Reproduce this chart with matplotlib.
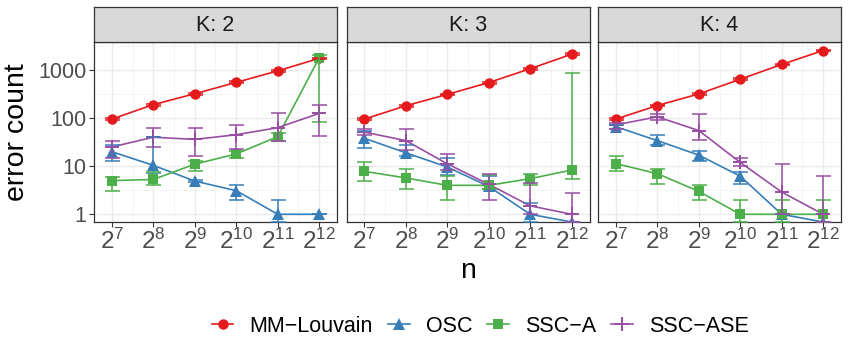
import numpy as np
import matplotlib
matplotlib.use('Agg')
import matplotlib.pyplot as plt
from matplotlib.lines import Line2D

plt.rcParams['font.family'] = ['Liberation Sans', 'DejaVu Sans']
plt.rcParams['mathtext.fontset'] = 'custom'
plt.rcParams['mathtext.rm'] = 'Liberation Sans'
plt.rcParams['mathtext.it'] = 'Liberation Sans:italic'

# n = 2^7 .. 2^12 (exponents), one row per K
exponents = [7, 8, 9, 10, 11, 12]
k_values = [2, 3, 4]
methods = ['MM\u2212Louvain', 'OSC', 'SSC\u2212A', 'SSC\u2212ASE']

# error counts (0 = shown at the panel floor, like -Inf in ggplot)
mm_mid = [[95, 190, 320, 550, 955, 1740], [95, 180, 310, 545, 1060, 2120], [95, 182, 317, 640, 1300, 2530]]
mm_lo = [[90, 181, 305, 525, 915, 1670], [90, 172, 297, 522, 1015, 2040], [90, 174, 304, 615, 1250, 2440]]
mm_hi = [[100, 199, 335, 575, 995, 1810], [100, 188, 323, 568, 1105, 2200], [100, 190, 330, 665, 1350, 2620]]

osc_mid = [[20, 10.4, 4.9, 3.1, 1, 1], [38, 19, 9.6, 3.8, 1, 0], [66, 34, 17, 6.2, 1, 0]]
osc_lo = [[13, 7.2, 4.6, 2.0, 0, 1], [23.7, 16, 6.7, 3.3, 0, 0], [60, 27, 12.6, 4.2, 1, 0]]
osc_hi = [[28, 41, 5.2, 4.0, 2.0, 1], [53.7, 26.9, 14.7, 6.2, 1.7, 0], [70, 45, 21, 7.5, 1, 0]]

ssca_mid = [[5, 5.3, 11, 18, 41, 1780], [7.8, 5.7, 4, 4, 5.5, 8.3], [11.3, 7, 3, 1, 1, 1]]
ssca_lo = [[3, 4, 7.8, 15, 32.6, 84], [5, 3.3, 2, 3.3, 4, 5.3], [7.8, 4.2, 2, 0, 0, 0]]
ssca_hi = [[5.9, 7.6, 13, 20.8, 50, 2000], [12.2, 8.8, 6.2, 6.7, 7, 870], [16, 8.8, 4, 2, 2, 2]]

sscase_mid = [[25, 40, 36, 45, 63, 125], [51, 34, 11.2, 4.2, 1.5, 1], [72, 106, 55, 12, 2.9, 1]]
sscase_lo = [[14.8, 25.5, 16, 22.7, 32.6, 42], [45, 22, 8.5, 2, 1, 0], [60, 90, 35, 9.9, 1, 0]]
sscase_hi = [[33.5, 61, 61, 72, 128, 190], [58, 58, 18, 7, 4.5, 2.8], [80, 120, 120, 15, 11, 6.2]]

series = [
    (mm_mid, mm_lo, mm_hi, '#E41A1C', 'o', 7.5),
    (osc_mid, osc_lo, osc_hi, '#377EB8', '^', 8.5),
    (ssca_mid, ssca_lo, ssca_hi, '#4DAF4A', 's', 7),
    (sscase_mid, sscase_lo, sscase_hi, '#984EA3', '+', 10),
]

ylo, yhi = 10 ** -0.16, 10 ** 3.58
x = np.array(exponents)

def floor0(v):
    v = np.array(v, dtype=float)
    v[v <= 0] = ylo
    return v

fig = plt.figure(figsize=(8.5, 3.5), dpi=100)
lefts = [94, 346.5, 598]
pw = 243
for i, k in enumerate(k_values):
    ax = fig.add_axes([lefts[i] / 850, 1 - 222 / 350, pw / 850, 180 / 350])
    ax.set_yscale('log')
    ax.set_xlim(6.57, 12.43)
    ax.set_ylim(ylo, yhi)
    ax.set_facecolor('white')

    # grid like theme_bw
    for e in exponents:
        ax.axvline(e, color='#EBEBEB', lw=1.0, zorder=0)
    for e in np.arange(7.5, 12, 1):
        ax.axvline(e, color='#F3F3F3', lw=0.6, zorder=0)
    for d in range(0, 4):
        ax.axhline(10 ** d, color='#EBEBEB', lw=1.0, zorder=0)
    for d in range(-1, 4):
        ax.axhline(10 ** (d + 0.5), color='#F3F3F3', lw=0.6, zorder=0)

    for mid, lo, hi, col, mk, ms in series:
        m = floor0(mid[i])
        ax.plot(x, m, color=col, lw=1.2, zorder=2)
    for mid, lo, hi, col, mk, ms in series:
        m = floor0(mid[i])
        mew = 1.4 if mk == '+' else 0
        ax.plot(x, m, linestyle='none', marker=mk, color=col, ms=ms, mew=mew, zorder=3)
    for mid, lo, hi, col, mk, ms in series:
        m = floor0(mid[i])
        l = floor0(lo[i])
        h = floor0(hi[i])
        ax.errorbar(x, m, yerr=[m - l, h - m], fmt='none', ecolor=col, elinewidth=1.1,
                    capsize=5.4, capthick=1.1, zorder=4)

    ax.set_xticks(exponents)
    ax.set_xticklabels(['$2^{%d}$' % e for e in exponents])
    ax.set_yticks([1, 10, 100, 1000])
    ax.yaxis.set_minor_locator(matplotlib.ticker.NullLocator())
    if i == 0:
        ax.set_yticklabels(['1', '10', '100', '1000'])
        ax.set_ylabel('error count', fontsize=20.5, labelpad=6)
    else:
        ax.tick_params(axis='y', left=False, labelleft=False)
    ax.tick_params(axis='both', colors='#333333', labelcolor='#4D4D4D', labelsize=15.5,
                   length=3.5, width=0.8, pad=2)
    ax.tick_params(axis='x', labelsize=17.5, pad=1)
    for s in ax.spines.values():
        s.set_color('#333333')
        s.set_linewidth(0.9)
    if i == 1:
        ax.set_xlabel('n', fontsize=20.5, labelpad=3)

    # facet strip
    sax = fig.add_axes([lefts[i] / 850, 1 - 42 / 350, pw / 850, 35 / 350])
    sax.set_facecolor('#D9D9D9')
    sax.set_xticks([])
    sax.set_yticks([])
    for s in sax.spines.values():
        s.set_color('#333333')
        s.set_linewidth(0.9)
    sax.text(0.5, 0.48, 'K: %d' % k, ha='center', va='center', fontsize=15.5,
             color='#1A1A1A', transform=sax.transAxes)

handles = []
for (mid, lo, hi, col, mk, ms), name in zip(series, methods):
    mew = 1.4 if mk == '+' else 0
    handles.append(Line2D([], [], color=col, lw=1.2, marker=mk, ms=ms, mew=mew))
fig.legend(handles, methods, loc='center', bbox_to_anchor=(0.565, 0.068), ncol=4,
           frameon=False, fontsize=15.5, handlelength=1.0, handletextpad=0.75,
           columnspacing=0.7)

fig.savefig('out.png', dpi=100)
